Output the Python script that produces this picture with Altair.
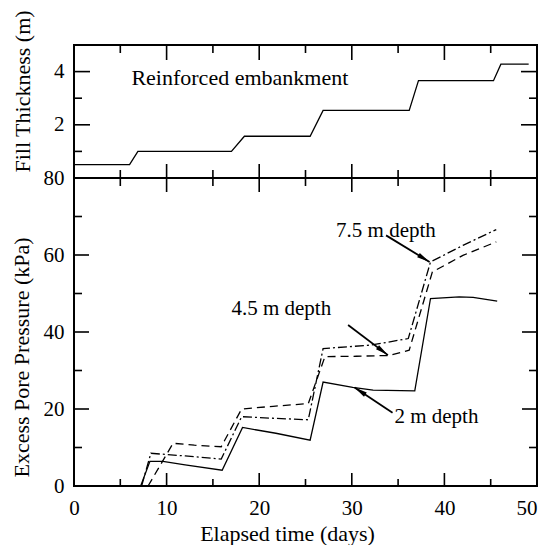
import math
import altair as alt
import pandas as pd

# ---------------- data ----------------
fill_day = [0, 6.0, 6.9, 17.0, 18.4, 25.5, 26.9, 36.2, 37.2, 45.3, 46.1, 49.1]
fill_m = [0.5, 0.5, 1.0, 1.0, 1.57, 1.57, 2.54, 2.54, 3.66, 3.66, 4.28, 4.28]

d2_day = [7.2, 8.2, 9.6, 12.0, 16.0, 18.2, 21.8, 25.5, 26.9, 30.1, 32.3, 36.8, 38.5, 41.6, 43.1, 45.7]
d2_kpa = [0, 6.4, 6.4, 5.5, 4.1, 15.2, 13.7, 11.9, 27.0, 25.6, 24.9, 24.7, 48.7, 49.1, 49.0, 48.0]

d45_day = [8.0, 10.7, 13.0, 15.9, 18.1, 21.5, 25.3, 27.1, 30.5, 34.1, 36.2, 38.7, 42.0, 45.6]
d45_kpa = [0, 11.1, 10.6, 10.2, 20.0, 20.7, 21.4, 33.6, 33.7, 33.9, 35.3, 55.6, 59.9, 63.4]

d75_day = [7.3, 8.3, 12.0, 15.9, 18.1, 21.5, 25.3, 26.9, 32.1, 36.1, 38.5, 42.0, 45.6]
d75_kpa = [0, 8.5, 7.8, 7.0, 18.0, 17.6, 17.2, 35.7, 36.6, 38.3, 58.2, 62.5, 66.6]

x_labels = [0, 10, 20, 30, 40, 50]
x_major = [10, 20, 30, 40]
x_minor = [5, 15, 25, 35, 45]
top_y_labels = [2, 4]
top_y_major = [2, 4]
top_y_minor = [1, 3]
bot_y_labels = [0, 20, 40, 60, 80]
bot_y_major = [20, 40, 60]
bot_y_minor = [10, 30, 50, 70]

note_text = ["7.5 m depth", "4.5 m depth", "2 m depth"]
note_day = [28.3, 17.0, 34.6]
note_kpa = [64.7, 44.4, 16.4]
arrow_day0 = [33.7, 29.6, 34.4]
arrow_kpa0 = [65.1, 41.8, 19.0]
arrow_day1 = [38.4, 33.9, 30.3]
arrow_kpa1 = [58.2, 34.0, 25.6]

top_note = ["Reinforced embankment"]
top_note_day = [6.2]
top_note_m = [3.5]

# ---------------- layout ----------------
W = 463
H_TOP = 133
H_BOT = 308
FONT = "Liberation Serif"
MAJ, MIN = 15, 8

xs = alt.Scale(domain=[0, 50], nice=False, zero=False)
ys_top = alt.Scale(domain=[0, 5], nice=False)
ys_bot = alt.Scale(domain=[0, 80], nice=False)


def X(field, scale, show):
    return alt.X(field, scale=scale, axis=None) if not show else alt.X(field, scale=scale)


def Y(field, scale):
    return alt.Y(field, scale=scale)


def xticks(vals, H, length, side, scale, show):
    df = pd.DataFrame({"v": vals})
    y0, y1 = (0, length) if side == "top" else (H, H - length)
    return alt.Chart(df).mark_rule(color="black", strokeWidth=1.6).encode(
        x=X("v:Q", scale, show), y=alt.value(y0), y2=alt.value(y1))


def yticks(vals, length, side, scale):
    df = pd.DataFrame({"v": vals})
    x0, x1 = (0, length) if side == "left" else (W, W - length)
    return alt.Chart(df).mark_rule(color="black", strokeWidth=1.6).encode(
        y=Y("v:Q", scale), x=alt.value(x0), x2=alt.value(x1))


# ---------------- top panel ----------------
fill_df = pd.DataFrame({"day": fill_day, "m": fill_m})
fill_line = alt.Chart(fill_df).mark_line(color="black", strokeWidth=1.3).encode(
    x=alt.X("day:Q", scale=xs, axis=None),
    y=alt.Y("m:Q", scale=ys_top,
            axis=alt.Axis(values=top_y_labels, title="Fill Thickness (m)",
                          titleX=-45, titleY=46, titleBaseline="alphabetic",
                          titleAngle=270, titleAlign="center")),
)
top_text = alt.Chart(pd.DataFrame({"day": top_note_day, "m": top_note_m, "t": top_note})).mark_text(
    align="left", baseline="alphabetic", font=FONT, fontSize=22, color="black"
).encode(x=X("day:Q", xs, False), y=Y("m:Q", ys_top), text="t:N")

top_layers = [fill_line, top_text,
              xticks(x_major, H_TOP, MAJ, "top", xs, False), xticks(x_minor, H_TOP, MIN, "top", xs, False),
              xticks(x_major, H_TOP, 14, "bottom", xs, False), xticks(x_minor, H_TOP, MIN, "bottom", xs, False),
              yticks(top_y_major, 16, "left", ys_top), yticks(top_y_minor, MIN, "left", ys_top),
              yticks(top_y_major, 16, "right", ys_top), yticks(top_y_minor, MIN, "right", ys_top)]
top = alt.layer(*top_layers).properties(width=W, height=H_TOP)

# ---------------- bottom panel ----------------
def series(days, vals, dash):
    df = pd.DataFrame({"day": days, "kpa": vals})
    mk = alt.Chart(df).mark_line(color="black", strokeWidth=1.3, strokeDash=dash)
    return mk.encode(x=X("day:Q", xs, True), y=Y("kpa:Q", ys_bot))


main = alt.Chart(pd.DataFrame({"day": d2_day, "kpa": d2_kpa})).mark_line(
    color="black", strokeWidth=1.3).encode(
    x=alt.X("day:Q", scale=xs,
            axis=alt.Axis(values=x_labels, title="Elapsed time (days)", labelPadding=11,
                          labelAlign=alt.ExprRef("datum.value >= 50 ? 'right' : 'center'"),
                          titleX=213, titleY=54, titleBaseline="alphabetic", titleAlign="center")),
    y=alt.Y("kpa:Q", scale=ys_bot,
            axis=alt.Axis(values=bot_y_labels, title="Excess Pore Pressure (kPa)",
                          titleX=-46, titleY=179, titleBaseline="alphabetic",
                          titleAngle=270, titleAlign="center")),
)
s45 = series(d45_day, d45_kpa, [8, 5])
s75 = series(d75_day, d75_kpa, [9, 3, 2, 3])

notes = alt.Chart(pd.DataFrame({"day": note_day, "kpa": note_kpa, "t": note_text})).mark_text(
    align="left", baseline="alphabetic", font=FONT, fontSize=21, color="black"
).encode(x=X("day:Q", xs, True), y=Y("kpa:Q", ys_bot), text="t:N")

angs = []
for a, b, c, d in zip(arrow_day0, arrow_kpa0, arrow_day1, arrow_kpa1):
    dx = (c - a) * W / 50.0
    dy = -(d - b) * H_BOT / 80.0
    angs.append(math.degrees(math.atan2(dx, -dy)) % 360)
arr_df = pd.DataFrame({"d0": arrow_day0, "k0": arrow_kpa0, "d1": arrow_day1, "k1": arrow_kpa1, "ang": angs})
arr_lines = alt.Chart(arr_df).mark_rule(color="black", strokeWidth=1.8).encode(
    x=X("d0:Q", xs, True), x2="d1:Q",
    y=Y("k0:Q", ys_bot), y2="k1:Q")
arr_heads = alt.Chart(arr_df).mark_point(filled=True, color="black", opacity=1, size=100).encode(
    x=X("d1:Q", xs, True),
    y=Y("k1:Q", ys_bot),
    angle=alt.Angle("ang:Q", scale=None),
    shape=alt.value("M0,0L0.5,2.6L-0.5,2.6Z"))

bot_layers = [main, s45, s75, notes, arr_lines, arr_heads,
              xticks(x_major, H_BOT, 14, "top", xs, True), xticks(x_minor, H_BOT, MIN, "top", xs, True),
              xticks(x_major, H_BOT, 13, "bottom", xs, True), xticks(x_minor, H_BOT, 7, "bottom", xs, True),
              yticks(bot_y_major, MAJ, "left", ys_bot), yticks(bot_y_minor, MIN, "left", ys_bot),
              yticks(bot_y_major, MAJ, "right", ys_bot), yticks(bot_y_minor, MIN, "right", ys_bot)]
bottom = alt.layer(*bot_layers).properties(width=W, height=H_BOT)

chart = alt.vconcat(top, bottom, spacing=0, bounds="flush").properties(
    padding={"left": 1, "top": 0, "right": 2, "bottom": 0}
).configure_view(stroke="black", strokeWidth=2).configure_axis(
    labelFont=FONT, titleFont=FONT, labelFontSize=21, titleFontSize=22,
    titleFontWeight="normal", labelColor="black", titleColor="black",
    grid=False, ticks=False, domain=False, labelPadding=10,
    labelFlush=False, labelOverlap=False,
).configure_concat(spacing=0)

chart.save("out.html", embed_options={"renderer": "svg", "actions": False})
